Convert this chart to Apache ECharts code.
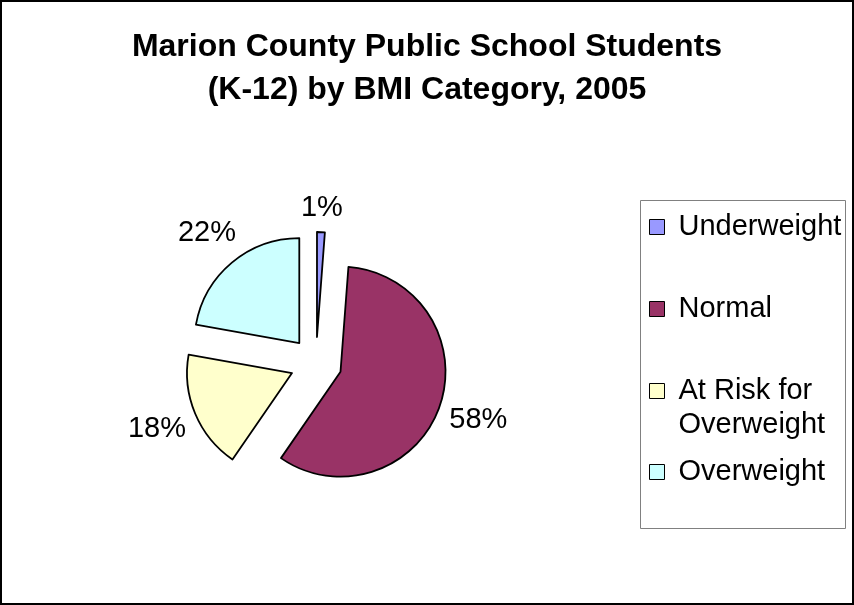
<!DOCTYPE html>
<html>
<head>
<meta charset="utf-8">
<script src="https://cdn.jsdelivr.net/npm/echarts@6/dist/echarts.min.js"></script>
<style>
  html, body { margin: 0; padding: 0; background: #fff; }
  #wrap { position: relative; width: 854px; height: 605px; }
  #chart { width: 854px; height: 605px; }
  #wrap::after {
    content: '';
    position: absolute;
    left: 0; top: 0; right: 0; bottom: 0;
    border: 2px solid #000;
    pointer-events: none;
  }
</style>
</head>
<body>
<div id="wrap"><div id="chart"></div></div>
<script>
const categories = ['Underweight', 'Normal', 'At Risk for Overweight', 'Overweight']
const legendNames = ['Underweight', 'Normal', ' \nAt Risk for\nOverweight', 'Overweight']
const shares = [1.2, 58.4, 18.2, 22.2]
const colors = ['#9999FF', '#993366', '#FFFFCC', '#CCFFFF']

const font = '"Liberation Sans", Arial, sans-serif'
const pieCenter = [316, 363]
const explode = 26

const chart = echarts.init(document.getElementById('chart'), null, { renderer: 'canvas' })

const legendBase = {
  orient: 'vertical',
  left: 649,
  padding: 0,
  itemWidth: 15,
  itemHeight: 15,
  icon: 'rect',
  selectedMode: false,
  itemStyle: { borderColor: '#000', borderWidth: 1 },
  formatter: name => legendNames[categories.indexOf(name)],
  textStyle: {
    fontFamily: font,
    fontSize: 29,
    lineHeight: 34,
    color: '#000',
    padding: [0, 0, 0, 9]
  }
}

// centre each label on the end of its (hidden) label line, then push it
// further along the slice direction so the whole box clears the rim
const placeLabel = params => {
  const pts = params.labelLinePoints
  const r = params.labelRect
  let ux = pts[1][0] - pts[0][0]
  let uy = pts[1][1] - pts[0][1]
  const len = Math.hypot(ux, uy) || 1
  ux /= len
  uy /= len
  const push = Math.abs(ux) * r.width / 2 + Math.abs(uy) * r.height / 2
  return {
    dx: ux * push,
    dy: uy * push,
    align: 'center',
    verticalAlign: 'middle'
  }
}

const option = {
  backgroundColor: '#fff',
  animation: false,
  color: colors,
  title: {
    text: 'Marion County Public School Students\n(K-12) by BMI Category, 2005',
    left: 'center',
    top: 21,
    textStyle: {
      fontFamily: font,
      fontSize: 32,
      fontWeight: 'bold',
      color: '#000',
      lineHeight: 43
    }
  },
  legend: [
    Object.assign({}, legendBase, {
      top: 210,
      itemGap: 48,
      data: categories.slice(0, 2)
    }),
    Object.assign({}, legendBase, {
      top: 340,
      data: [categories[2]]
    }),
    Object.assign({}, legendBase, {
      top: 455,
      data: [categories[3]]
    })
  ],
  graphic: [{
    type: 'rect',
    left: 638,
    top: 198,
    shape: { width: 205, height: 328 },
    style: { fill: 'none', stroke: '#808080', lineWidth: 1 },
    z: -1
  }],
  series: [{
    type: 'pie',
    center: pieCenter,
    radius: 105,
    startAngle: 90,
    clockwise: true,
    selectedMode: 'multiple',
    selectedOffset: explode,
    emphasis: { disabled: true },
    itemStyle: { borderColor: '#000', borderWidth: 1.8 },
    percentPrecision: 2,
    label: {
      show: true,
      position: 'outside',
      formatter: p => Math.round(p.percent) + '%',
      fontFamily: font,
      fontSize: 29,
      color: '#000',
      distanceToLabelLine: 0
    },
    labelLine: { show: false, length: 9, length2: 0 },
    labelLayout: placeLabel,
    data: categories.map((name, i) => ({ name, value: shares[i], selected: true }))
  }]
}

chart.setOption(option)
</script>
</body>
</html>
